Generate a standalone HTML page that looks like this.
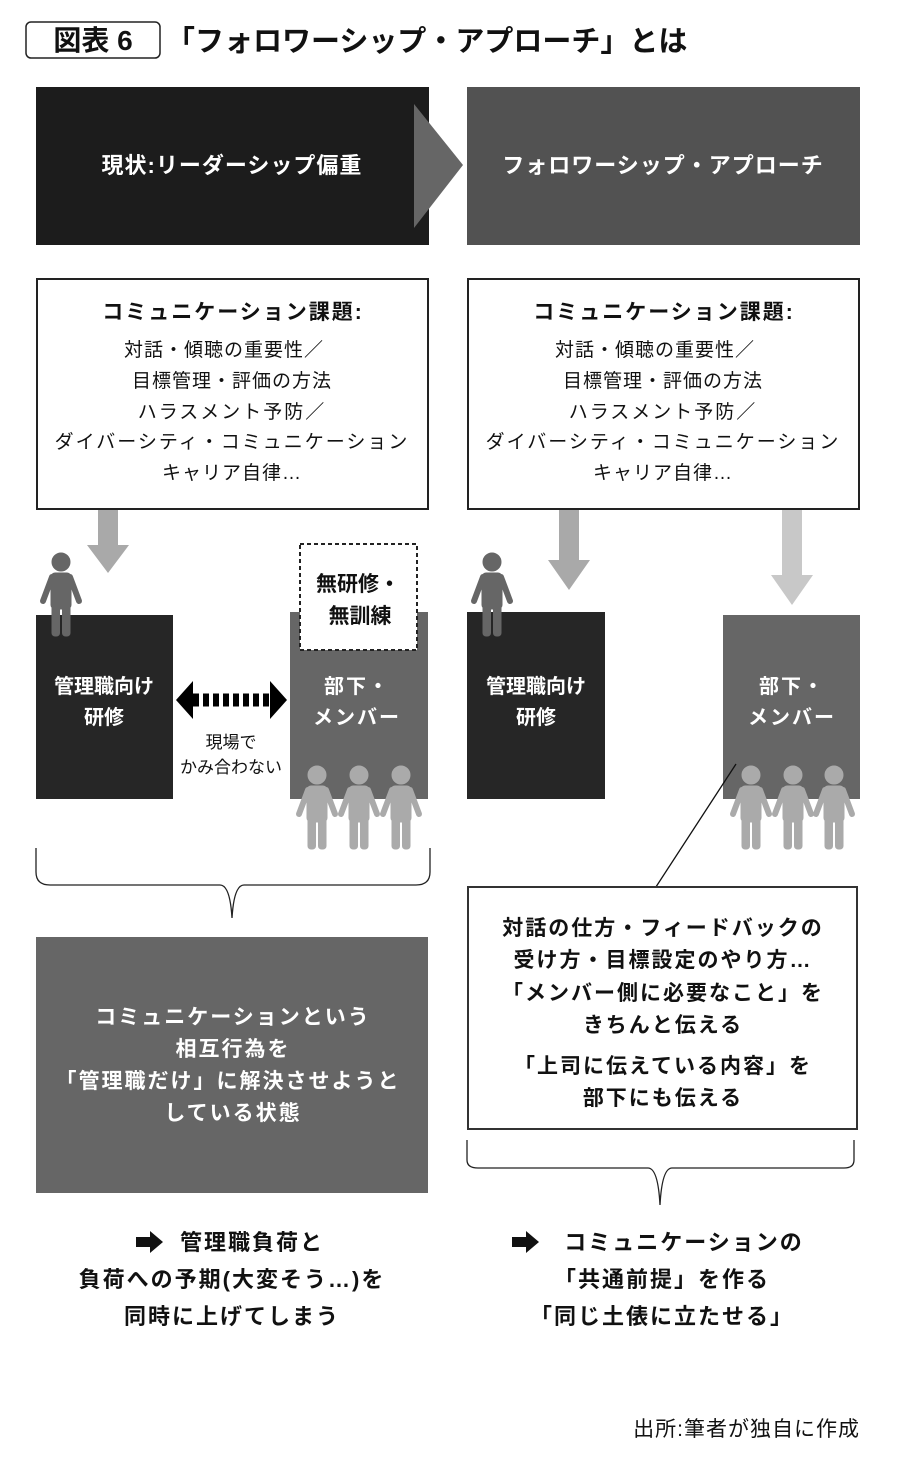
<!DOCTYPE html>
<html><head><meta charset="utf-8"><style>
html,body{margin:0;padding:0;background:#fff}
svg{display:block}
text{font-family:"Liberation Sans","Noto Sans CJK JP",sans-serif;font-weight:bold}
text.n{font-weight:normal}
</style></head><body>
<svg width="900" height="1477" viewBox="0 0 900 1477" xmlns="http://www.w3.org/2000/svg">
<defs>
<symbol id="p" overflow="visible">
<circle cx="0" cy="10" r="9"/>
<rect x="-10" y="21" width="20" height="36" rx="4"/>
<line x1="-9" y1="25" x2="-18" y2="49" stroke-width="6" stroke-linecap="round"/>
<line x1="9" y1="25" x2="18" y2="49" stroke-width="6" stroke-linecap="round"/>
<rect x="-9" y="52" width="7.5" height="32" rx="3"/>
<rect x="1.5" y="52" width="7.5" height="32" rx="3"/>
</symbol>
</defs>

<rect x="26" y="22" width="134" height="36" rx="5" fill="#fff" stroke="#222" stroke-width="1.5"/>
<text x="93" y="50" font-size="28" text-anchor="middle" fill="#111">図表 6</text>
<text x="166" y="51" font-size="29" fill="#111">「フォロワーシップ・アプローチ」とは</text>

<rect x="36" y="87" width="393" height="158" fill="#1c1c1c"/>
<rect x="467" y="87" width="393" height="158" fill="#525252"/>
<polygon points="414,104 463,165 414,228" fill="#666"/>
<text x="232" y="173" font-size="22" fill="#fff" text-anchor="middle" letter-spacing="1">現状:リーダーシップ偏重</text>
<text x="663" y="173" font-size="22" fill="#fff" text-anchor="middle" letter-spacing="1">フォロワーシップ・アプローチ</text>

<g fill="#111" text-anchor="middle">
<rect x="37" y="279" width="391" height="230" fill="#fff" stroke="#222" stroke-width="2"/>
<text x="233" y="319" font-size="21" letter-spacing="2">コミュニケーション課題:</text>
<text class="n" x="224" y="356" font-size="19" letter-spacing="1">対話・傾聴の重要性／</text>
<text class="n" x="232" y="387" font-size="19" letter-spacing="1">目標管理・評価の方法</text>
<text class="n" x="232" y="418" font-size="19" letter-spacing="2">ハラスメント予防／</text>
<text class="n" x="232" y="448" font-size="19" letter-spacing="2">ダイバーシティ・コミュニケーション</text>
<text class="n" x="232" y="479" font-size="19" letter-spacing="1">キャリア自律…</text>

<rect x="468" y="279" width="391" height="230" fill="#fff" stroke="#222" stroke-width="2"/>
<text x="664" y="319" font-size="21" letter-spacing="2">コミュニケーション課題:</text>
<text class="n" x="655" y="356" font-size="19" letter-spacing="1">対話・傾聴の重要性／</text>
<text class="n" x="663" y="387" font-size="19" letter-spacing="1">目標管理・評価の方法</text>
<text class="n" x="663" y="418" font-size="19" letter-spacing="2">ハラスメント予防／</text>
<text class="n" x="663" y="448" font-size="19" letter-spacing="2">ダイバーシティ・コミュニケーション</text>
<text class="n" x="663" y="479" font-size="19" letter-spacing="1">キャリア自律…</text>
</g>

<polygon points="98,510 118,510 118,545 129,545 108,573 87,545 98,545" fill="#a9a9a9"/>
<polygon points="559,510 579,510 579,560 590,560 569,590 548,560 559,560" fill="#a9a9a9"/>
<polygon points="782,510 802,510 802,575 813,575 792,605 771,575 782,575" fill="#c8c8c8"/>

<rect x="36" y="615" width="137" height="184" fill="#262626"/>
<use href="#p" x="61" y="552" fill="#666" stroke="#666"/>
<rect x="290" y="612" width="138" height="187" fill="#666"/>
<rect x="300" y="544" width="117" height="106" fill="#fff" stroke="#222" stroke-width="2" stroke-dasharray="4,3"/>
<text x="358" y="591" font-size="21" text-anchor="middle" fill="#111">無研修・</text>
<text x="360" y="623" font-size="21" text-anchor="middle" fill="#111">無訓練</text>
<text x="104" y="693" font-size="20" text-anchor="middle" fill="#fff">管理職向け</text>
<text x="104" y="724" font-size="20" text-anchor="middle" fill="#fff">研修</text>
<text x="357" y="693" font-size="20" text-anchor="middle" fill="#fff" letter-spacing="2">部下・</text>
<text x="357" y="724" font-size="20" text-anchor="middle" fill="#fff" letter-spacing="2">メンバー</text>
<polygon points="176,700 193,681 193,719" fill="#000"/>
<polygon points="287,700 270,681 270,719" fill="#000"/>
<line x1="193" y1="700" x2="270" y2="700" stroke="#000" stroke-width="13" stroke-dasharray="6,4"/>
<text class="n" x="231" y="748" font-size="17" text-anchor="middle" fill="#111">現場で</text>
<text class="n" x="231" y="773" font-size="17" text-anchor="middle" fill="#111">かみ合わない</text>
<use href="#p" x="317" y="765" fill="#aaa" stroke="#aaa"/>
<use href="#p" x="359" y="765" fill="#aaa" stroke="#aaa"/>
<use href="#p" x="401" y="765" fill="#aaa" stroke="#aaa"/>

<rect x="467" y="612" width="138" height="187" fill="#262626"/>
<use href="#p" x="492" y="552" fill="#666" stroke="#666"/>
<rect x="723" y="615" width="137" height="184" fill="#666"/>
<text x="536" y="693" font-size="20" text-anchor="middle" fill="#fff">管理職向け</text>
<text x="536" y="724" font-size="20" text-anchor="middle" fill="#fff">研修</text>
<text x="792" y="693" font-size="20" text-anchor="middle" fill="#fff" letter-spacing="2">部下・</text>
<text x="792" y="724" font-size="20" text-anchor="middle" fill="#fff" letter-spacing="2">メンバー</text>
<use href="#p" x="751" y="765" fill="#aaa" stroke="#aaa"/>
<use href="#p" x="793" y="765" fill="#aaa" stroke="#aaa"/>
<use href="#p" x="834" y="765" fill="#aaa" stroke="#aaa"/>
<line x1="736" y1="764" x2="652" y2="893" stroke="#111" stroke-width="1.3"/>

<path d="M36,848 L36,872 Q36,885 50,885 L220,885 Q230,885 232,918 Q234,885 244,885 L416,885 Q430,885 430,872 L430,848" fill="none" stroke="#222" stroke-width="1.3"/>
<path d="M467,1140 L467,1160 Q467,1168 478,1168 L648,1168 Q658,1168 660,1205 Q662,1168 672,1168 L844,1168 Q854,1168 854,1160 L854,1140" fill="none" stroke="#222" stroke-width="1.3"/>

<rect x="36" y="937" width="392" height="256" fill="#666"/>
<g fill="#fff" font-size="21" text-anchor="middle" letter-spacing="2">
<text x="233" y="1024">コミュニケーションという</text>
<text x="233" y="1056">相互行為を</text>
<text x="228" y="1088">「管理職だけ」に解決させようと</text>
<text x="233" y="1120">している状態</text>
</g>

<rect x="468" y="887" width="389" height="242" fill="#fff" stroke="#333" stroke-width="2"/>
<g fill="#111" font-size="21" text-anchor="middle" letter-spacing="2">
<text x="663" y="935">対話の仕方・フィードバックの</text>
<text x="663" y="967">受け方・目標設定のやり方…</text>
<text x="663" y="1000">「メンバー側に必要なこと」を</text>
<text x="663" y="1032">きちんと伝える</text>
<text x="663" y="1073">「上司に伝えている内容」を</text>
<text x="663" y="1105">部下にも伝える</text>
</g>

<g fill="#111" font-size="22" text-anchor="middle" letter-spacing="2">
<text x="252" y="1250">管理職負荷と</text>
<text x="232" y="1287">負荷への予期(大変そう…)を</text>
<text x="232" y="1324">同時に上げてしまう</text>
<text x="684" y="1250">コミュニケーションの</text>
<text x="662" y="1287">「共通前提」を作る</text>
<text x="662" y="1324">「同じ土俵に立たせる」</text>
</g>
<polygon points="136,1237 150,1237 150,1231 163,1242 150,1253 150,1247 136,1247" fill="#111"/>
<polygon points="512,1237 526,1237 526,1231 539,1242 526,1253 526,1247 512,1247" fill="#111"/>

<text class="n" x="860" y="1436" font-size="21" text-anchor="end" fill="#111" letter-spacing="1">出所:筆者が独自に作成</text>
</svg>
</body></html>
